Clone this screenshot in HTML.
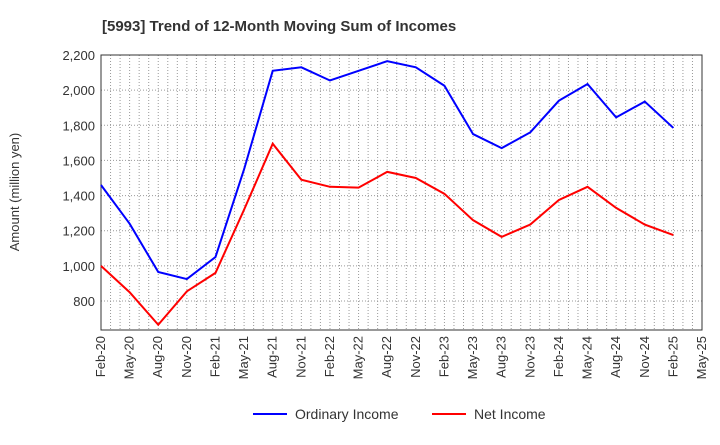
<!DOCTYPE html>
<html><head><meta charset="utf-8"><style>
body{margin:0;background:#fff;font-family:"Liberation Sans",Arial,sans-serif}
svg text{font-family:"Liberation Sans",Arial,sans-serif}
</style></head><body>
<svg id="chart" width="720" height="440" xmlns="http://www.w3.org/2000/svg">
<text x="102" y="31" font-size="15" font-weight="bold" fill="#333">[5993]  Trend of 12-Month Moving Sum of Incomes</text>
<text transform="translate(19,192) rotate(-90)" text-anchor="middle" font-size="13" fill="#333">Amount (million yen)</text>
<g id="grid"></g><g id="axes"></g><g id="series"></g>
<g>
<line x1="253" y1="414" x2="287" y2="414" stroke="#0000ff" stroke-width="2"/>
<text x="295" y="419" font-size="14" fill="#333">Ordinary Income</text>
<line x1="432" y1="414" x2="466" y2="414" stroke="#ff0000" stroke-width="2"/>
<text x="474" y="419" font-size="14" fill="#333">Net Income</text>
</g>
</svg>
<script>
const categories=["Feb-20","May-20","Aug-20","Nov-20","Feb-21","May-21","Aug-21","Nov-21","Feb-22","May-22","Aug-22","Nov-22","Feb-23","May-23","Aug-23","Nov-23","Feb-24","May-24","Aug-24","Nov-24","Feb-25"];
const xTickLabels=["Feb-20","May-20","Aug-20","Nov-20","Feb-21","May-21","Aug-21","Nov-21","Feb-22","May-22","Aug-22","Nov-22","Feb-23","May-23","Aug-23","Nov-23","Feb-24","May-24","Aug-24","Nov-24","Feb-25","May-25"];
const ordinaryIncome=[1460,1240,965,925,1050,1550,2110,2130,2055,2110,2165,2130,2025,1750,1670,1760,1940,2035,1845,1935,1785];
const netIncome=[1000,850,665,855,960,1320,1695,1490,1450,1445,1535,1500,1410,1260,1165,1235,1375,1450,1330,1235,1175];
const yTicks=[800,1000,1200,1400,1600,1800,2000,2200];
const L=101,R=702,T=55,B=330,yMin=635,yMax=2200;
const NS="http://www.w3.org/2000/svg";
const xs=i=>L+(R-L)*i/(xTickLabels.length-1);
const ys=v=>B-(v-yMin)/(yMax-yMin)*(B-T);
function mk(tag,attrs,parent){const e=document.createElementNS(NS,tag);for(const k in attrs)e.setAttribute(k,attrs[k]);document.getElementById(parent).appendChild(e);return e;}
const months=(xTickLabels.length-1)*3;
for(let m=1;m<months;m++){const x=L+(R-L)*m/months;
const g=mk('line',{x1:x,x2:x,y1:T,y2:B,stroke:'#999','stroke-dasharray':'1,2','stroke-width':1},'grid');

}
yTicks.forEach(v=>{const y=ys(v);
const g=mk('line',{x1:L,x2:R,y1:y,y2:y,stroke:'#999','stroke-dasharray':'1,2'},'grid');


const t=mk('text',{x:L-6,y:y+5,'text-anchor':'end','font-size':13,fill:'#333'},'axes');t.textContent=v.toLocaleString('en-US');

});
const fr=mk('rect',{x:L,y:T,width:R-L,height:B-T,fill:'none',stroke:'#333','stroke-width':1},'axes');


xTickLabels.forEach((c,i)=>{const x=xs(i);
const t=mk('text',{transform:`translate(${x+4},${B+6}) rotate(-90)`,'text-anchor':'end','font-size':13,fill:'#333'},'axes');t.textContent=c;

});
function line(data,color,name){const p=mk('polyline',{points:data.map((v,i)=>xs(i)+','+ys(v)).join(' '),fill:'none',stroke:color,'stroke-width':2},'series');

}
line(ordinaryIncome,'#0000ff','ordinary-income-line');
line(netIncome,'#ff0000','net-income-line');
</script>
</body></html>
